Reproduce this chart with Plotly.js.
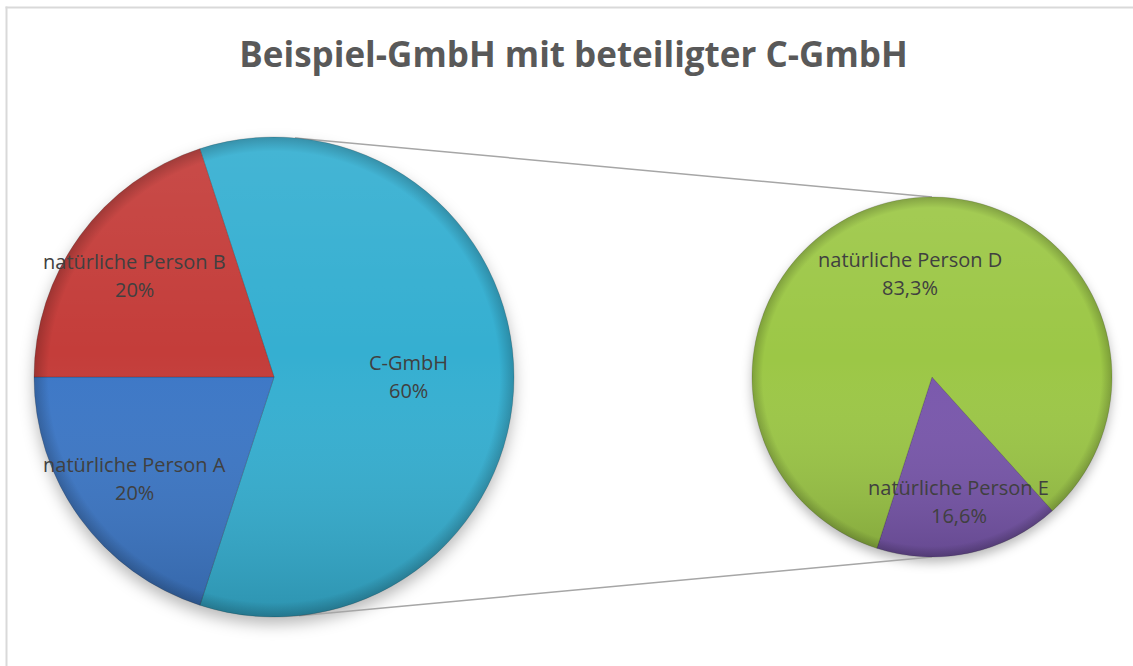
<!DOCTYPE html>
<html>
<head>
<meta charset="utf-8">
<script src="https://cdn.plot.ly/plotly-3.0.1.min.js"></script>
<style>html,body{margin:0;padding:0;background:#fff;} #chart{width:1133px;height:666px;}</style>
</head>
<body>
<div id="chart"></div>
<script>
// ---- data ----
const mainLabels = ["C-GmbH", "natürliche Person A", "natürliche Person B"];
const mainValues = [60, 20, 20];
const mainColors = ["#35AFD1", "#3C77C6", "#C43D3A"];

const subLabels = ["natürliche Person E", "natürliche Person D"];
const subValues = [16.6, 83.3];
const subColors = ["#7957AC", "#9CC746"];

const titleText = "Beispiel-GmbH mit beteiligter C-GmbH";

// ---- layout geometry (pixels) ----
const W = 1133, H = 666;
const P1 = {cx: 274, cy: 377, r: 240, rot: -18};
const P2 = {cx: 932, cy: 377, r: 180, rot: 138};
const labelRadius1 = [0.56, 0.72, 0.72];
const labelRadius2 = [0.71, 0.59];

function domainOf(p) {
  return {x: [(p.cx - p.r) / W, (p.cx + p.r) / W],
          y: [(H - p.cy - p.r) / H, (H - p.cy + p.r) / H]};
}

const traces = [
  {type: "pie", labels: mainLabels, values: mainValues, sort: false,
   direction: "clockwise", rotation: P1.rot, domain: domainOf(P1),
   marker: {colors: mainColors, line: {color: "rgba(0,0,0,0.2)", width: 0.8}},
   textinfo: "none", hoverinfo: "none", showlegend: false},
  {type: "pie", labels: subLabels, values: subValues, sort: false,
   direction: "clockwise", rotation: P2.rot, domain: domainOf(P2),
   marker: {colors: subColors, line: {color: "rgba(0,0,0,0.2)", width: 0.8}},
   textinfo: "none", hoverinfo: "none", showlegend: false}
];

const labelFont = {family: "Open Sans, sans-serif", size: 20, color: "#404040"};
const annotations = [];
function addLabels(p, labels, values, fr, fmt) {
  const total = values.reduce((a, b) => a + b, 0);
  let cum = 0;
  labels.forEach((lab, i) => {
    const mid = (p.rot + (cum + values[i] / 2) / total * 360) * Math.PI / 180;
    cum += values[i];
    const px = p.cx + fr[i] * p.r * Math.sin(mid);
    const py = p.cy - fr[i] * p.r * Math.cos(mid);
    const x = px / W, y = 1 - py / H;
    annotations.push({xref: "paper", yref: "paper", x: x, y: y, yshift: 14,
      text: lab, showarrow: false, font: labelFont, xanchor: "center", yanchor: "middle"});
    annotations.push({xref: "paper", yref: "paper", x: x, y: y, yshift: -14,
      text: fmt(values[i]), showarrow: false, font: labelFont, xanchor: "center", yanchor: "middle"});
  });
}
addLabels(P1, mainLabels, mainValues, labelRadius1, v => v + "%");
addLabels(P2, subLabels, subValues, labelRadius2, v => v.toFixed(1).replace(".", ",") + "%");

function circPt(p, deg) {
  const a = deg * Math.PI / 180;
  return [(p.cx + p.r * Math.sin(a)) / W, 1 - (p.cy - p.r * Math.cos(a)) / H];
}
const u0 = circPt(P1, 5), u1 = circPt(P2, 0);
const l0 = circPt(P1, 174), l1 = circPt(P2, 180);

const shapes = [
  {type: "line", xref: "paper", yref: "paper", x0: u0[0], y0: u0[1], x1: u1[0], y1: u1[1],
   line: {color: "#A6A6A6", width: 1.5}, layer: "below"},
  {type: "line", xref: "paper", yref: "paper", x0: l0[0], y0: l0[1], x1: l1[0], y1: l1[1],
   line: {color: "#A6A6A6", width: 1.5}, layer: "below"},
  {type: "line", xref: "paper", yref: "paper", x0: 6.5 / W, y0: 0, x1: 6.5 / W, y1: 1 - 6.5 / H,
   line: {color: "#D9D9D9", width: 2}},
  {type: "line", xref: "paper", yref: "paper", x0: 5.5 / W, y0: 1 - 7.5 / H, x1: 1, y1: 1 - 7.5 / H,
   line: {color: "#D9D9D9", width: 2}}
];

const shadeSvg = "<svg xmlns='http://www.w3.org/2000/svg' width='200' height='200' viewBox='0 0 200 200'>" +
  "<defs><linearGradient id='g' x1='0' y1='0' x2='0' y2='1'>" +
  "<stop offset='0' stop-color='#ffffff' stop-opacity='0.08'/>" +
  "<stop offset='0.45' stop-color='#ffffff' stop-opacity='0'/>" +
  "<stop offset='1' stop-color='#000000' stop-opacity='0.16'/></linearGradient>" +
  "<radialGradient id='e' cx='0.5' cy='0.5' r='0.5'>" +
  "<stop offset='0.94' stop-color='#000' stop-opacity='0'/>" +
  "<stop offset='1' stop-color='#000' stop-opacity='0.2'/></radialGradient></defs>" +
  "<circle cx='100' cy='100' r='100' fill='url(#g)'/>" +
  "<circle cx='100' cy='100' r='100' fill='url(#e)'/></svg>";
const shadeSrc = "data:image/svg+xml;charset=utf-8," + encodeURIComponent(shadeSvg);

const shadowSvg = "<svg xmlns='http://www.w3.org/2000/svg' width='240' height='240' viewBox='0 0 240 240'>" +
  "<defs><filter id='b' x='-20%' y='-20%' width='140%' height='140%'><feGaussianBlur stdDeviation='3'/></filter></defs>" +
  "<circle cx='120' cy='123' r='100' fill='#000' fill-opacity='0.28' filter='url(#b)'/></svg>";
const shadowSrc = "data:image/svg+xml;charset=utf-8," + encodeURIComponent(shadowSvg);

function shadeImg(p) {
  return {source: shadeSrc, xref: "paper", yref: "paper",
    x: (p.cx - p.r) / W, y: 1 - (p.cy - p.r) / H, sizex: 2 * p.r / W, sizey: 2 * p.r / H,
    xanchor: "left", yanchor: "top", sizing: "stretch", layer: "above"};
}
function shadowImg(p) {
  const R = p.r * 1.2;
  return {source: shadowSrc, xref: "paper", yref: "paper",
    x: (p.cx - R) / W, y: 1 - (p.cy - R) / H, sizex: 2 * R / W, sizey: 2 * R / H,
    xanchor: "left", yanchor: "top", sizing: "stretch", layer: "below"};
}

const layout = {
  width: W, height: H,
  margin: {l: 0, r: 0, t: 0, b: 0},
  paper_bgcolor: "#ffffff",
  title: {text: "<b>" + titleText + "</b>", x: 573.5 / W, xanchor: "center",
          y: 1 - 55 / H, yanchor: "middle",
          font: {family: "Open Sans, sans-serif", size: 35, color: "#595959"}},
  shapes: shapes,
  annotations: annotations,
  images: [shadowImg(P1), shadowImg(P2), shadeImg(P1), shadeImg(P2)]
};

Plotly.newPlot("chart", traces, layout, {displayModeBar: false, staticPlot: true});
</script>
</body>
</html>
